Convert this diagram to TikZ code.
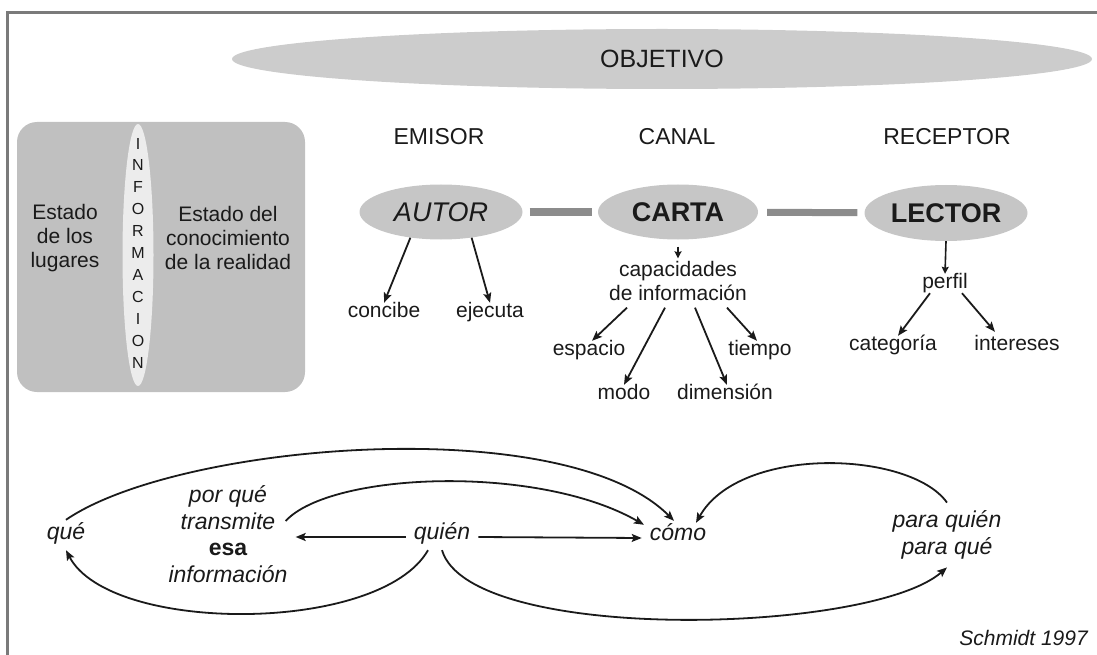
\documentclass[tikz,border=0pt]{standalone}
\usepackage{fontspec}
\setmainfont{Liberation Sans}
\usetikzlibrary{arrows.meta,shapes.geometric}
\definecolor{framec}{HTML}{7A7A7A}
\definecolor{ellgray}{HTML}{C6C6C6}
\definecolor{objgray}{HTML}{CCCCCC}
\definecolor{boxgray}{HTML}{C0C0C0}
\definecolor{infgray}{HTML}{ECECEC}
\definecolor{bargray}{HTML}{8C8C8C}
\definecolor{ink}{HTML}{1A1A1A}
\tikzset{
  txt/.style={text=ink, font=\fontsize{21pt}{24pt}\selectfont, text height=0.75em, text depth=0.25em, inner sep=7pt},
  mtxt/.style={text=ink, align=center, font=\fontsize{21pt}{23.5pt}\selectfont, inner sep=3pt},
  head/.style={text=ink, font=\fontsize{23pt}{26pt}\selectfont},
  bigell/.style={ellipse, fill=ellgray, draw=none, minimum width=163pt, minimum height=55pt, inner sep=0pt, text=ink},
  btxt/.style={text=ink, font=\fontsize{23pt}{26pt}\selectfont\itshape, text height=0.75em, text depth=0.25em, inner sep=8pt},
  bmtxt/.style={text=ink, align=center, font=\fontsize{23pt}{26.7pt}\selectfont\itshape, inner sep=8pt},
  arr/.style={draw=ink, line width=1.8pt, -{Stealth[length=10pt,width=8pt,inset=2pt]}},
  sarr/.style={draw=ink, line width=1.6pt, -{Stealth[length=7pt,width=7pt,inset=1pt]}},
  bar/.style={draw=bargray, line width=7pt}
}
\begin{document}
\begin{tikzpicture}[x=1pt,y=-1pt]
\useasboundingbox (0,0) rectangle (1097,655);
% frame
\draw[framec, line width=3pt] (7,655) -- (7,13) -- (1097,13);
% objective
\node[ellipse, fill=objgray, minimum width=860pt, minimum height=60pt, inner sep=0pt, text=ink, font=\fontsize{25pt}{28pt}\selectfont] (objetivo) at (662,59) {OBJETIVO};
% information box
\node[fill=boxgray, rounded corners=20pt, minimum width=288pt, minimum height=270pt, inner sep=0pt] (infobox) at (161,257) {};
\node[ellipse, fill=infgray, minimum width=31pt, minimum height=262pt, inner sep=0pt] (infoell) at (138,255) {};
\node[text=ink, align=center, font=\fontsize{16pt}{21.9pt}\selectfont, inner sep=0pt] (informacion) at (138,253) {I\\N\\F\\O\\R\\M\\A\\C\\I\\O\\N};
\node[mtxt, font=\fontsize{21pt}{24pt}\selectfont] (lugares) at (65,238) {Estado\\de los\\lugares};
\node[mtxt, font=\fontsize{21pt}{24pt}\selectfont] (realidad) at (228,238) {Estado del\\conocimiento\\de la realidad};
% headers
\node[head] (emisor) at (439,137) {EMISOR};
\node[head] (canal) at (677,137) {CANAL};
\node[head] (receptor) at (947,137) {RECEPTOR};
% main ellipses
\node[bigell, font=\fontsize{27pt}{30pt}\selectfont\itshape] (autor) at (441,212) {AUTOR};
\node[bigell, minimum width=160pt, font=\fontsize{27pt}{30pt}\selectfont\bfseries] (carta) at (678,212) {CARTA};
\node[bigell, minimum height=56pt, font=\fontsize{27pt}{30pt}\selectfont\bfseries] (lector) at (946,213) {LECTOR};
\draw[bar, shorten <=7pt, shorten >=6pt] (autor) -- (carta);
\draw[bar, shorten <=9pt, shorten >=7pt] (carta) -- (lector);
% autor tree
\node[txt] (concibe) at (384,315) {concibe};
\node[txt] (ejecuta) at (490,315) {ejecuta};
\draw[arr] (autor.220) -- (concibe.north);
\draw[arr] (autor.320) -- (ejecuta.north);
% carta tree
\node[mtxt] (capacidades) at (678,281) {capacidades\\de información};
\draw[sarr, shorten <=7pt] (carta.south) -- (capacidades.north);
\node[txt] (espacio) at (589,353) {espacio};
\node[txt] (modo) at (624,397) {modo};
\node[txt] (dimension) at (725,397) {dimensión};
\node[txt] (tiempo) at (760,353) {tiempo};
\draw[arr] ([xshift=-51pt,yshift=-4pt]capacidades.south) -- ([xshift=3pt]espacio.north);
\draw[arr] ([xshift=-13pt,yshift=-4pt]capacidades.south) -- (modo.north);
\draw[arr] ([xshift=17pt,yshift=-4pt]capacidades.south) -- ([xshift=2pt]dimension.north);
\draw[arr] ([xshift=49pt,yshift=-4pt]capacidades.south) -- ([xshift=-3pt]tiempo.north);
% lector tree
\node[txt] (perfil) at (945,286) {perfil};
\draw[sarr] (lector.south) -- (perfil.north);
\node[txt] (categoria) at (893,348) {categoría};
\node[txt] (intereses) at (1017,348) {intereses};
\draw[arr] ([xshift=-15pt,yshift=5pt]perfil.south) -- ([xshift=5pt]categoria.north);
\draw[arr] ([xshift=17pt,yshift=5pt]perfil.south) -- ([xshift=-22pt,yshift=4pt]intereses.north);
% bottom
\node[btxt] (que) at (66,537) {qué};
\node[bmtxt] (porque) at (228,534) {por qué\\transmite\\{\upshape\bfseries esa}\\información};
\node[btxt] (quien) at (442,537) {quién};
\node[btxt] (como) at (678,538) {cómo};
\node[bmtxt] (paraquien) at (947,535) {para quién\\para qué};
\node[text=ink, font=\fontsize{21pt}{24pt}\selectfont\itshape, anchor=east, inner sep=0pt] (schmidt) at (1088,638) {Schmidt 1997};
\draw[arr] (quien.west) -- (quien.west -| porque.east);
\draw[arr] (quien.east) -- (como.west);
\draw[arr] ([yshift=4pt]que.north) .. controls +(112,-77) and +(-110,-110) .. ([xshift=-4pt,yshift=4pt]como.north);
\draw[arr] ([xshift=-10pt,yshift=13pt]porque.east) .. controls +(45,-49) and +(-106,-61) .. ([xshift=-34pt]como.north);
\draw[arr] ([xshift=-14pt]quien.south) .. controls +(-48,84) and +(44,84) .. (que.south);
\draw[arr] (quien.south) .. controls +(28,94) and +(-77,67) .. (paraquien.south);
\draw[arr] (paraquien.north) .. controls +(-37,-52) and +(44,-78) .. ([xshift=18pt,yshift=2pt]como.north);
\end{tikzpicture}
\end{document}
